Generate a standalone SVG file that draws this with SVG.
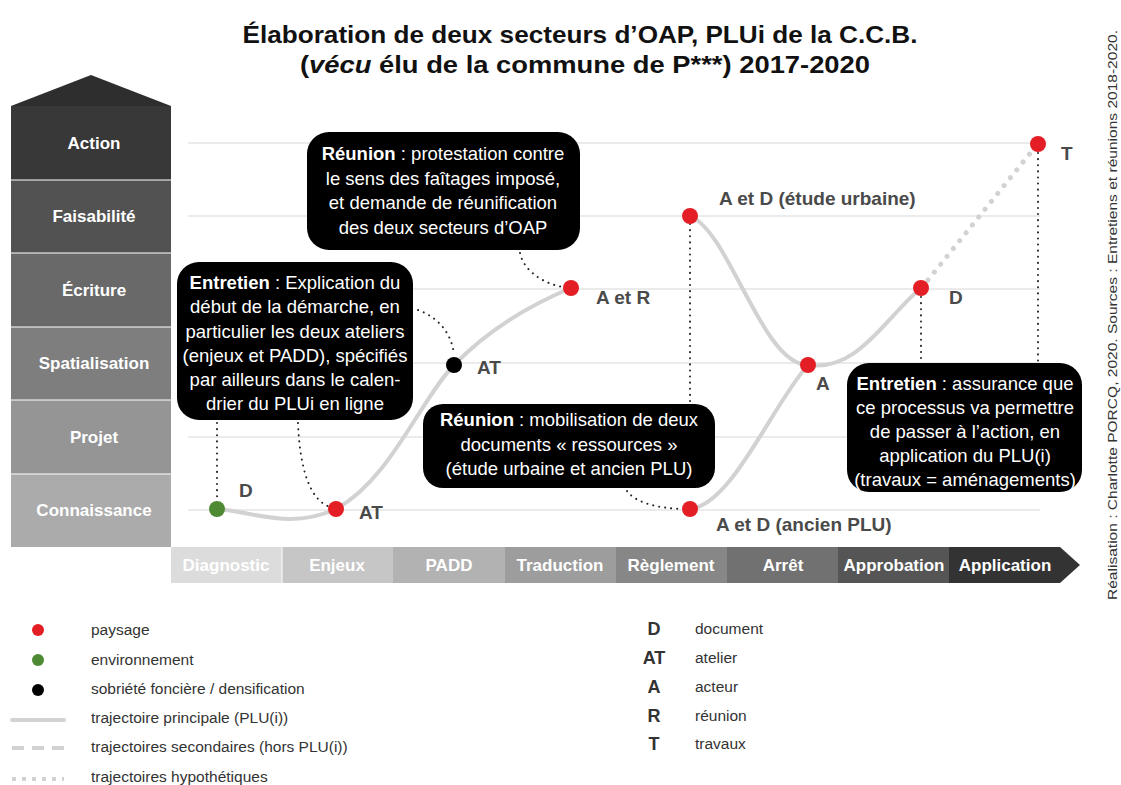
<svg xmlns="http://www.w3.org/2000/svg" width="1121" height="785" viewBox="0 0 1121 785">
<style>
.lvl{font-family:"Liberation Sans",Arial,sans-serif;font-weight:bold;font-size:17px;fill:#fff;text-anchor:middle}
.ph{font-family:"Liberation Sans",Arial,sans-serif;font-weight:bold;font-size:17px;fill:#fff;text-anchor:middle}
.grid{stroke:#e4e4e4;stroke-width:1.5}
.traj{fill:none;stroke:#d2d2d2;stroke-width:4;stroke-linecap:round}
.hyp{fill:none;stroke:#d2d2d2;stroke-width:5;stroke-linecap:round;stroke-dasharray:0.1 10}
.lead{fill:none;stroke:#222;stroke-width:2;stroke-linecap:round;stroke-dasharray:0.1 6}
.box{fill:#000}
.ct{font-family:"Liberation Sans",Arial,sans-serif;font-size:18.5px;fill:#fff;text-anchor:middle}
.ct .b{font-weight:bold}
.pl{font-family:"Liberation Sans",Arial,sans-serif;font-weight:bold;font-size:19px;fill:#4a4a4a}
.lg{font-family:"Liberation Sans",Arial,sans-serif;font-size:15.5px;fill:#333}
.lk{font-family:"Liberation Sans",Arial,sans-serif;font-weight:bold;font-size:18px;fill:#333;text-anchor:middle}
.red{fill:#e31e24}
.green{fill:#4e8a34}
.black{fill:#000}
</style>

<!-- Title -->
<text x="580" y="43" text-anchor="middle" font-family="Liberation Sans, Arial, sans-serif" font-weight="bold" font-size="24" fill="#111" textLength="675" lengthAdjust="spacingAndGlyphs">Élaboration de deux secteurs d’OAP, PLUi de la C.C.B.</text>
<text x="585" y="73" text-anchor="middle" font-family="Liberation Sans, Arial, sans-serif" font-weight="bold" font-size="24" fill="#111" textLength="570" lengthAdjust="spacingAndGlyphs">(<tspan font-style="italic">vécu</tspan> élu de la commune de P***) 2017-2020</text>

<!-- Vertical scale -->
<g id="scale">
<polygon points="11,106 91,75 171,106" fill="#2e2e2e"/>
<rect x="11" y="106" width="160" height="74" fill="#383838"/>
<rect x="11" y="180" width="160" height="73" fill="#525252"/>
<rect x="11" y="253" width="160" height="74" fill="#696969"/>
<rect x="11" y="327" width="160" height="73" fill="#7e7e7e"/>
<rect x="11" y="400" width="160" height="74" fill="#959595"/>
<rect x="11" y="474" width="160" height="73" fill="#ababab"/>
<g stroke="#fff" stroke-width="1"><line x1="11" y1="180" x2="171" y2="180"/><line x1="11" y1="253" x2="171" y2="253"/><line x1="11" y1="327" x2="171" y2="327"/><line x1="11" y1="400" x2="171" y2="400"/><line x1="11" y1="474" x2="171" y2="474"/></g>
<text class="lvl" x="94" y="149">Action</text>
<text class="lvl" x="94" y="222">Faisabilité</text>
<text class="lvl" x="94" y="296">Écriture</text>
<text class="lvl" x="94" y="369">Spatialisation</text>
<text class="lvl" x="94" y="443">Projet</text>
<text class="lvl" x="94" y="516">Connaissance</text>
</g>

<!-- Grid -->
<g id="grid">
<line class="grid" x1="188" y1="143" x2="1040" y2="143"/>
<line class="grid" x1="188" y1="216" x2="1040" y2="216"/>
<line class="grid" x1="188" y1="289" x2="1040" y2="289"/>
<line class="grid" x1="188" y1="363" x2="1040" y2="363"/>
<line class="grid" x1="188" y1="437" x2="1040" y2="437"/>
<line class="grid" x1="188" y1="510" x2="1040" y2="510"/>
</g>

<!-- Phase bar -->
<g id="phases">
<rect x="171" y="547" width="111" height="36" fill="#dcdcdc"/>
<rect x="282" y="547" width="111" height="36" fill="#c6c6c6"/>
<rect x="393" y="547" width="112" height="36" fill="#b2b2b2"/>
<rect x="505" y="547" width="111" height="36" fill="#9d9d9d"/>
<rect x="616" y="547" width="111" height="36" fill="#878787"/>
<rect x="727" y="547" width="111" height="36" fill="#717171"/>
<rect x="838" y="547" width="111" height="36" fill="#555555"/>
<polygon points="949,547 1060,547 1080,565 1060,583 949,583" fill="#333333"/>
<line x1="282" y1="547" x2="282" y2="583" stroke="#fff" stroke-width="1"/>
<text class="ph" x="226" y="571">Diagnostic</text>
<text class="ph" x="337" y="571">Enjeux</text>
<text class="ph" x="449" y="571">PADD</text>
<text class="ph" x="560" y="571">Traduction</text>
<text class="ph" x="671" y="571">Règlement</text>
<text class="ph" x="783" y="571">Arrêt</text>
<text class="ph" x="894" y="571">Approbation</text>
<text class="ph" x="1005" y="571">Application</text>
</g>

<!-- Connectors -->
<g id="connectors">
<path class="traj" d="M217,509 C255,512 290,530 336,509 C390,480 420,400 454,365 C490,328 530,305 571,288"/>
<path class="traj" d="M690,216 C730,232 762,365 808,365"/>
<path class="traj" d="M690,509 C732,505 772,405 808,365"/>
<path class="traj" d="M808,365 C858,372 885,318 921,288"/>
<path class="hyp" d="M928,280 L1032,151"/>
<path class="lead" d="M217,423 L217,500"/>
<path class="lead" d="M298,423 C300,470 310,500 330,507"/>
<path class="lead" d="M418,310 C440,318 452,335 454,355"/>
<path class="lead" d="M520,253 C524,272 545,284 563,287"/>
<path class="lead" d="M690,224 L690,403"/>
<path class="lead" d="M627,491 C635,502 655,508 682,509"/>
<path class="lead" d="M921,297 L921,362"/>
<path class="lead" d="M1038,153 L1038,362"/>
</g>

<!-- Points -->
<g id="p-D1"><circle class="green" cx="217" cy="509" r="8"/><text class="pl" x="239" y="497">D</text></g>
<g id="p-AT1"><circle class="red" cx="336" cy="509" r="8"/><text class="pl" x="359" y="519">AT</text></g>
<g id="p-AT2"><circle class="black" cx="454" cy="365" r="8"/><text class="pl" x="477" y="374">AT</text></g>
<g id="p-AR"><circle class="red" cx="571" cy="288" r="8"/><text class="pl" x="596" y="304">A et R</text></g>
<g id="p-ADE"><circle class="red" cx="690" cy="216" r="8"/><text class="pl" x="719" y="205">A et D (étude urbaine)</text></g>
<g id="p-ADA"><circle class="red" cx="690" cy="509" r="8"/><text class="pl" x="716" y="531">A et D (ancien PLU)</text></g>
<g id="p-A"><circle class="red" cx="808" cy="365" r="8"/><text class="pl" x="816" y="390">A</text></g>
<g id="p-D2"><circle class="red" cx="921" cy="288" r="8"/><text class="pl" x="949" y="304">D</text></g>
<g id="p-T"><circle class="red" cx="1038" cy="144" r="8"/><text class="pl" x="1061" y="160">T</text></g>

<!-- Callouts -->
<g id="c-entretien1">
<rect class="box" x="177" y="262" width="236" height="158" rx="22"/>
<text class="ct" x="295" y="289"><tspan class="b">Entretien</tspan> : Explication du</text>
<text class="ct" x="295" y="313">début de la démarche, en</text>
<text class="ct" x="295" y="338">particulier les deux ateliers</text>
<text class="ct" x="295" y="362">(enjeux et PADD), spécifiés</text>
<text class="ct" x="295" y="386">par ailleurs dans le calen-</text>
<text class="ct" x="295" y="410">drier du PLUi en ligne</text>
</g>
<g id="c-reunion1">
<rect class="box" x="307" y="132" width="273" height="118" rx="22"/>
<text class="ct" x="443" y="160"><tspan class="b">Réunion</tspan> : protestation contre</text>
<text class="ct" x="443" y="185">le sens des faîtages imposé,</text>
<text class="ct" x="443" y="209">et demande de réunification</text>
<text class="ct" x="443" y="234">des deux secteurs d’OAP</text>
</g>
<g id="c-reunion2">
<rect class="box" x="423" y="404" width="292" height="84" rx="20"/>
<text class="ct" x="569" y="426"><tspan class="b">Réunion</tspan> : mobilisation de deux</text>
<text class="ct" x="569" y="451">documents « ressources »</text>
<text class="ct" x="569" y="475">(étude urbaine et ancien PLU)</text>
</g>
<g id="c-entretien2">
<rect class="box" x="847" y="363" width="235" height="129" rx="22"/>
<text class="ct" x="965" y="390"><tspan class="b">Entretien</tspan> : assurance que</text>
<text class="ct" x="965" y="414">ce processus va permettre</text>
<text class="ct" x="965" y="438">de passer à l’action, en</text>
<text class="ct" x="965" y="462">application du PLU(i)</text>
<text class="ct" x="965" y="486">(travaux = aménagements)</text>
</g>

<!-- Side credit -->
<text x="1117" y="315" transform="rotate(-90 1117 315)" text-anchor="middle" font-family="Liberation Sans, Arial, sans-serif" font-size="13.5" fill="#333" textLength="570" lengthAdjust="spacingAndGlyphs">Réalisation : Charlotte PORCQ, 2020. Sources : Entretiens et réunions 2018-2020.</text>

<!-- Legend -->
<g id="legend">
<circle class="red" cx="38" cy="630" r="6"/>
<circle class="green" cx="38" cy="660" r="6"/>
<circle class="black" cx="38" cy="690" r="6"/>
<line x1="12" y1="720" x2="64" y2="720" stroke="#d2d2d2" stroke-width="4" stroke-linecap="round"/>
<line x1="12" y1="748" x2="64" y2="748" stroke="#d2d2d2" stroke-width="4" stroke-dasharray="12 8"/>
<line x1="12" y1="779" x2="64" y2="779" stroke="#d2d2d2" stroke-width="4" stroke-dasharray="4 6"/>
<text class="lg" x="91" y="635">paysage</text>
<text class="lg" x="91" y="665">environnement</text>
<text class="lg" x="91" y="694">sobriété foncière / densification</text>
<text class="lg" x="91" y="723">trajectoire principale (PLU(i))</text>
<text class="lg" x="91" y="752">trajectoires secondaires (hors PLU(i))</text>
<text class="lg" x="91" y="782">trajectoires hypothétiques</text>
<text class="lk" x="654" y="635">D</text>
<text class="lk" x="654" y="664">AT</text>
<text class="lk" x="654" y="693">A</text>
<text class="lk" x="654" y="722">R</text>
<text class="lk" x="654" y="750">T</text>
<text class="lg" x="695" y="634">document</text>
<text class="lg" x="695" y="663">atelier</text>
<text class="lg" x="695" y="692">acteur</text>
<text class="lg" x="695" y="721">réunion</text>
<text class="lg" x="695" y="749">travaux</text>
</g>
</svg>
